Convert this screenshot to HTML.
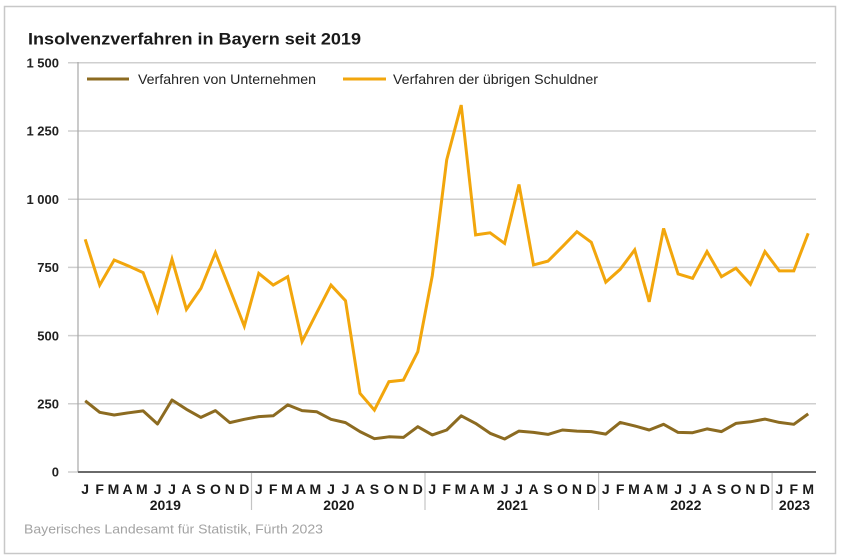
<!DOCTYPE html>
<html>
<head>
<meta charset="utf-8">
<style>
html,body{margin:0;padding:0;background:#fff;}
svg{display:block;}
text{font-family:"Liberation Sans",Arial,sans-serif;}
</style>
</head>
<body>
<svg width="841" height="560" viewBox="0 0 841 560" xmlns="http://www.w3.org/2000/svg">
<rect x="0" y="0" width="841" height="560" fill="#fff"/>
<rect x="4.5" y="6.5" width="831" height="547" fill="#fff" stroke="#c8c8c8" stroke-width="1.5"/>

<text x="28" y="44.5" font-size="17" font-weight="bold" fill="#1a1a1a" textLength="333" lengthAdjust="spacingAndGlyphs">Insolvenzverfahren in Bayern seit 2019</text>

<!-- gridlines -->
<g stroke="#cfcfcf" stroke-width="1.5">
<line x1="68" y1="62.8" x2="816" y2="62.8"/>
<line x1="68" y1="131" x2="816" y2="131"/>
<line x1="68" y1="199.2" x2="816" y2="199.2"/>
<line x1="68" y1="267.4" x2="816" y2="267.4"/>
<line x1="68" y1="335.6" x2="816" y2="335.6"/>
<line x1="68" y1="403.8" x2="816" y2="403.8"/>
<line x1="68" y1="472" x2="78" y2="472"/>
</g>
<line x1="78" y1="62" x2="78" y2="472" stroke="#a8a8a8" stroke-width="1.2"/>

<!-- y labels -->
<g font-size="13" font-weight="bold" fill="#222" text-anchor="end">
<text x="59" y="67.5">1 500</text>
<text x="59" y="135.7">1 250</text>
<text x="59" y="203.9">1 000</text>
<text x="59" y="272.1">750</text>
<text x="59" y="340.3">500</text>
<text x="59" y="408.5">250</text>
<text x="59" y="476.7">0</text>
</g>

<!-- legend -->
<line x1="87" y1="79" x2="129" y2="79" stroke="#8c6b21" stroke-width="3"/>
<text x="138" y="84" font-size="14" fill="#222" textLength="178" lengthAdjust="spacingAndGlyphs">Verfahren von Unternehmen</text>
<line x1="343" y1="79" x2="386" y2="79" stroke="#f2a60c" stroke-width="3"/>
<text x="393" y="84" font-size="14" fill="#222" textLength="205" lengthAdjust="spacingAndGlyphs">Verfahren der übrigen Schuldner</text>

<!-- series -->
<polyline fill="none" stroke="#f2a60c" stroke-width="3" stroke-linejoin="miter" stroke-miterlimit="4" points="85.2,239.3 99.7,285.1 114.2,260.0 128.6,266.0 143.1,272.6 157.5,311.0 172.0,259.2 186.4,309.4 200.9,288.4 215.4,252.7 229.8,289.2 244.3,326.1 258.8,273.4 273.2,285.1 287.7,276.7 302.1,341.6 316.6,313.0 331.0,285.1 345.5,300.7 360.0,393.4 374.4,410.1 388.9,381.7 403.4,380.1 417.8,351.7 432.3,275.6 446.7,159.9 461.2,105.1 475.6,234.9 490.1,232.8 504.6,243.4 519.0,184.5 533.5,264.9 548.0,261.1 562.4,246.7 576.9,231.7 591.3,242.3 605.8,282.1 620.2,269.3 634.7,249.9 649.2,301.8 663.6,228.4 678.1,273.9 692.6,278.3 707.0,251.6 721.5,276.7 735.9,268.2 750.4,284.3 764.9,251.6 779.3,270.9 793.8,270.9 808.2,233.3"/>
<polyline fill="none" stroke="#8c6b21" stroke-width="3" stroke-linejoin="round" points="85.2,400.8 99.7,412.3 114.2,415.0 128.6,412.8 143.1,410.9 157.5,424.0 172.0,400.0 186.4,409.3 200.9,417.4 215.4,410.6 229.8,422.6 244.3,419.3 258.8,416.6 273.2,415.8 287.7,404.9 302.1,410.6 316.6,411.7 331.0,419.3 345.5,422.6 360.0,431.6 374.4,438.7 388.9,436.8 403.4,437.4 417.8,426.7 432.3,434.9 446.7,430.0 461.2,415.8 475.6,423.4 490.1,433.3 504.6,439.0 519.0,431.1 533.5,432.4 548.0,434.4 562.4,430.0 576.9,431.1 591.3,431.6 605.8,434.1 620.2,422.4 634.7,425.9 649.2,430.0 663.6,424.3 678.1,432.4 692.6,432.7 707.0,428.9 721.5,431.6 735.9,423.4 750.4,421.8 764.9,419.1 779.3,422.4 793.8,424.3 808.2,413.9"/>

<!-- x axis -->
<line x1="78" y1="472" x2="816" y2="472" stroke="#6a6a6a" stroke-width="2"/>
<g stroke="#c4c4c4" stroke-width="1.2">
<line x1="251.5" y1="473" x2="251.5" y2="510"/>
<line x1="425" y1="473" x2="425" y2="510"/>
<line x1="598.6" y1="473" x2="598.6" y2="510"/>
<line x1="772.1" y1="473" x2="772.1" y2="510"/>
</g>

<g font-size="14" font-weight="bold" fill="#1a1a1a" text-anchor="middle">
<text x="85.2" y="494">J</text><text x="99.7" y="494">F</text><text x="113.4" y="494">M</text><text x="127.6" y="494">A</text><text x="141.8" y="494">M</text><text x="157.5" y="494">J</text><text x="172.0" y="494">J</text><text x="186.4" y="494">A</text><text x="200.9" y="494">S</text><text x="215.4" y="494">O</text><text x="229.8" y="494">N</text><text x="244.3" y="494">D</text>
<text x="258.8" y="494">J</text><text x="273.2" y="494">F</text><text x="286.9" y="494">M</text><text x="301.1" y="494">A</text><text x="315.3" y="494">M</text><text x="331.0" y="494">J</text><text x="345.5" y="494">J</text><text x="360.0" y="494">A</text><text x="374.4" y="494">S</text><text x="388.9" y="494">O</text><text x="403.4" y="494">N</text><text x="417.8" y="494">D</text>
<text x="432.3" y="494">J</text><text x="446.7" y="494">F</text><text x="460.4" y="494">M</text><text x="474.6" y="494">A</text><text x="488.8" y="494">M</text><text x="504.6" y="494">J</text><text x="519.0" y="494">J</text><text x="533.5" y="494">A</text><text x="548.0" y="494">S</text><text x="562.4" y="494">O</text><text x="576.9" y="494">N</text><text x="591.3" y="494">D</text>
<text x="605.8" y="494">J</text><text x="620.2" y="494">F</text><text x="633.9" y="494">M</text><text x="648.2" y="494">A</text><text x="662.3" y="494">M</text><text x="678.1" y="494">J</text><text x="692.6" y="494">J</text><text x="707.0" y="494">A</text><text x="721.5" y="494">S</text><text x="735.9" y="494">O</text><text x="750.4" y="494">N</text><text x="764.9" y="494">D</text>
<text x="779.3" y="494">J</text><text x="793.8" y="494">F</text><text x="808.2" y="494">M</text>
<text x="165.3" y="510">2019</text>
<text x="338.8" y="510">2020</text>
<text x="512.3" y="510">2021</text>
<text x="685.8" y="510">2022</text>
<text x="794.5" y="510">2023</text>
</g>

<text x="24" y="533.5" font-size="13" fill="#a3a3a3" textLength="299" lengthAdjust="spacingAndGlyphs">Bayerisches Landesamt für Statistik, Fürth 2023</text>
</svg>
</body>
</html>
